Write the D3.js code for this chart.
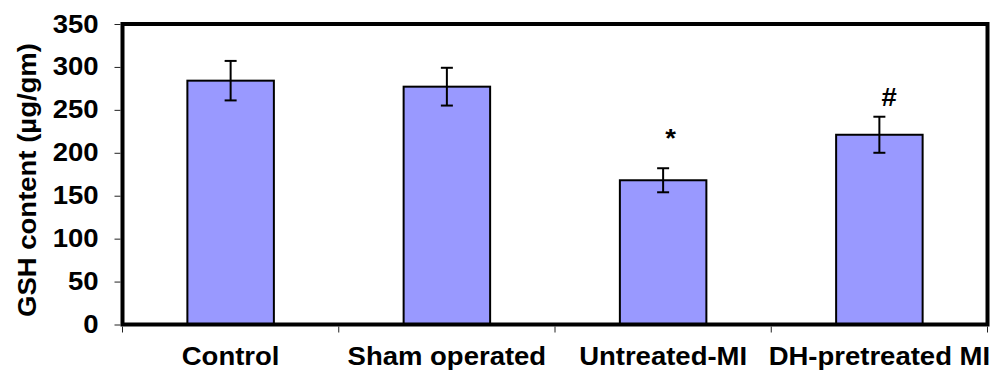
<!DOCTYPE html>
<html>
<head>
<meta charset="utf-8">
<script src="https://cdn.jsdelivr.net/npm/d3@7"></script>
<style>
  body { margin: 0; background: #fff; }
  text { font-family: "Liberation Sans", Arial, sans-serif; font-weight: bold; }
</style>
</head>
<body>
<div id="chart"></div>
<script>
const groups = ['Control', 'Sham operated', 'Untreated-MI', 'DH-pretreated MI'];
const gshValues = [284, 277, 168, 221];
const gshErrors = [23, 22, 14, 21];
const marks = ['', '', '*', '#'];
const markLevels = [0, 0, 207, 254];   // baseline of the marks, in µg/gm
const yTicks = [0, 50, 100, 150, 200, 250, 300, 350];

const w = 995;
const h = 372;
const plotLeft = 122.5, plotRight = 987.5, plotTop = 24, plotBottom = 324.5;
const bar_color = '#9999ff';
const stretch = 'scale(1.1,1)';

const svg = d3.select('#chart')
  .append('svg')
  .attr('width', w)
  .attr('height', h);

const x = d3.scaleBand().domain(groups).range([plotLeft, plotRight]).padding(0);
const y = d3.scaleLinear().domain([0, 350]).range([plotBottom, plotTop]);
const bw = x.bandwidth() * 0.4;

// bars
svg.selectAll('rect.bar')
  .data(groups)
  .enter()
  .append('rect')
  .attr('class', 'bar')
  .attr('x', d => x(d) + (x.bandwidth() - bw) / 2)
  .attr('y', (d, i) => y(gshValues[i]))
  .attr('width', bw)
  .attr('height', (d, i) => y(0) - y(gshValues[i]))
  .attr('fill', bar_color)
  .attr('stroke', '#000')
  .attr('stroke-width', 2);

// error bars
const eb = svg.selectAll('g.err')
  .data(groups)
  .enter()
  .append('g')
  .attr('class', 'err')
  .attr('transform', d => `translate(${x(d) + x.bandwidth() / 2},0)`)
  .attr('stroke', '#000')
  .attr('stroke-width', 2);
eb.append('line')
  .attr('y1', (d, i) => y(gshValues[i] + gshErrors[i]))
  .attr('y2', (d, i) => y(gshValues[i] - gshErrors[i]));
eb.append('line')
  .attr('x1', -6).attr('x2', 6)
  .attr('y1', (d, i) => y(gshValues[i] + gshErrors[i]))
  .attr('y2', (d, i) => y(gshValues[i] + gshErrors[i]));
eb.append('line')
  .attr('x1', -6).attr('x2', 6)
  .attr('y1', (d, i) => y(gshValues[i] - gshErrors[i]))
  .attr('y2', (d, i) => y(gshValues[i] - gshErrors[i]));

// significance marks
svg.selectAll('text.mark')
  .data(groups)
  .enter()
  .append('text')
  .attr('class', 'mark')
  .attr('transform', (d, i) => `translate(${x(d) + x.bandwidth() / 2 + 2},${y(markLevels[i])}) ${stretch}`)
  .attr('font-size', 25)
  .attr('text-anchor', 'start')
  .text((d, i) => marks[i]);

// frame
svg.append('rect')
  .attr('x', plotLeft).attr('y', plotTop)
  .attr('width', plotRight - plotLeft).attr('height', plotBottom - plotTop)
  .attr('fill', 'none')
  .attr('stroke', '#000')
  .attr('stroke-width', 4);

// y axis
const yAxis = svg.append('g')
  .attr('transform', `translate(${plotLeft - 2},0)`)
  .call(d3.axisLeft(y).tickValues(yTicks).tickSize(6).tickFormat(d3.format('d')));
yAxis.select('.domain').remove();
yAxis.selectAll('line').attr('stroke', '#222');
yAxis.selectAll('text')
  .attr('font-size', 25)
  .attr('fill', '#000')
  .attr('x', -20)
  .attr('transform', stretch);

// x axis labels
const xAxis = svg.append('g')
  .attr('transform', `translate(0,${plotBottom})`)
  .call(d3.axisBottom(x).tickSize(0));
xAxis.select('.domain').remove();
xAxis.selectAll('text')
  .attr('font-size', 25)
  .attr('fill', '#000')
  .attr('y', 23)
  .attr('transform', stretch);

// category separators
svg.selectAll('line.sep')
  .data(groups.map(d => x(d)).concat([plotRight]))
  .enter()
  .append('line')
  .attr('class', 'sep')
  .attr('x1', d => d).attr('x2', d => d)
  .attr('y1', plotBottom + 2).attr('y2', plotBottom + 8)
  .attr('stroke', '#222');

// y axis title
svg.append('text')
  .attr('transform', `translate(${27 + 9},${180}) rotate(-90) ${stretch}`)
  .attr('text-anchor', 'middle')
  .attr('font-size', 25)
  .text('GSH content (µg/gm)');
</script>
</body>
</html>
